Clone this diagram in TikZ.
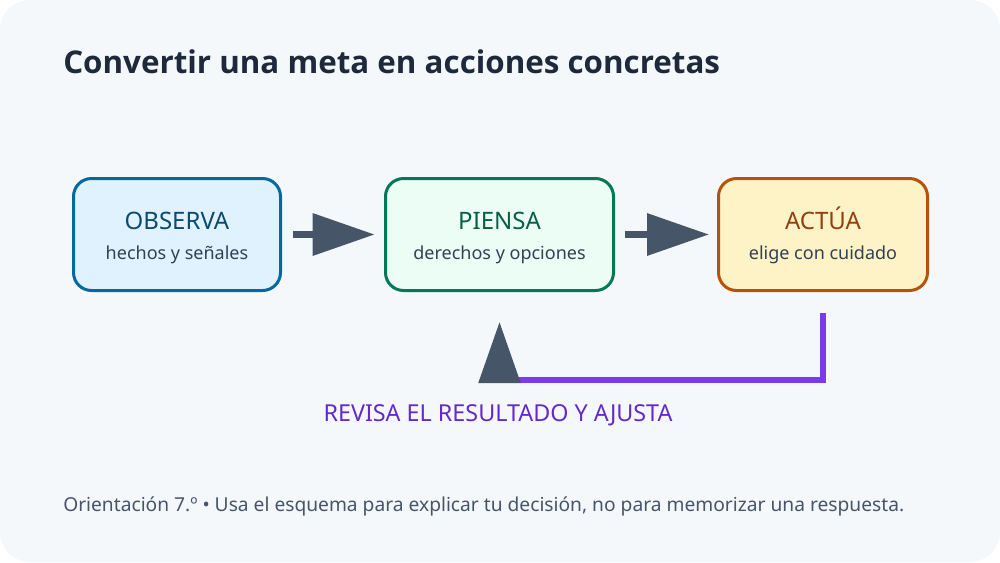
\documentclass[tikz,border=0pt]{standalone}
\usepackage{fontspec}
\setmainfont{Noto Sans}
\newfontfamily\titlefont{Open Sans}
\usetikzlibrary{arrows.meta,calc}
\definecolor{pagebg}{HTML}{F5F8FB}
\definecolor{titlec}{HTML}{1E293B}
\definecolor{subc}{HTML}{334155}
\definecolor{footc}{HTML}{475569}
\definecolor{arrowc}{HTML}{475569}
\definecolor{obsdraw}{HTML}{0369A1}
\definecolor{obsfill}{HTML}{E0F2FE}
\definecolor{obstext}{HTML}{0C4A6E}
\definecolor{piedraw}{HTML}{047857}
\definecolor{piefill}{HTML}{ECFDF5}
\definecolor{pietext}{HTML}{065F46}
\definecolor{actdraw}{HTML}{B45309}
\definecolor{actfill}{HTML}{FEF3C7}
\definecolor{acttext}{HTML}{92400E}
\definecolor{fbline}{HTML}{7C3AED}
\definecolor{fbtext}{HTML}{6229CF}
\tikzset{
  stepbox/.style={draw, line width=2.25pt, rounded corners=13.5pt, minimum height=84pt, inner sep=0pt},
  boxtitle/.style={anchor=base, inner sep=0pt, font=\fontsize{18}{21}\selectfont},
  boxsub/.style={anchor=base, inner sep=0pt, text=subc, font=\fontsize{13.5}{16}\selectfont},
  flow/.style={draw=arrowc, line width=5pt, -{Triangle[length=46.5pt, width=30.75pt, color=arrowc]}},
  feedback/.style={draw=fbline, line width=4pt, line join=miter, -{Triangle[length=45.75pt, width=30.75pt, color=arrowc]}},
}
\begin{document}
\begin{tikzpicture}[x=0.75pt,y=-0.75pt]
\useasboundingbox (0,0) rectangle (1000,562);
\fill[white] (0,0) rectangle (1000,562);
\fill[pagebg, rounded corners=22.5pt] (0,0) rectangle (1000,562);

\node[anchor=base west, inner sep=0pt, text=titlec, font=\titlefont\bfseries\fontsize{23.5}{28}\selectfont] (title) at (63,73.5) {Convertir una meta en acciones concretas};

\node[stepbox, draw=obsdraw, fill=obsfill, minimum width=155.25pt] (obs) at (177,234.5) {};
\node[stepbox, draw=piedraw, fill=piefill, minimum width=171pt] (pie) at (499.5,234.5) {};
\node[stepbox, draw=actdraw, fill=actfill, minimum width=156.75pt] (act) at (823,234.5) {};

\node[boxtitle, text=obstext] (obst) at (177,229) {OBSERVA};
\node[boxsub] (obss) at (177,259) {hechos y señales};
\node[boxtitle, text=pietext] (piet) at (499.5,229) {PIENSA};
\node[boxsub] (pies) at (499.5,259) {derechos y opciones};
\node[boxtitle, text=acttext] (actt) at (823,229) {ACTÚA};
\node[boxsub] (acts) at (823,259) {elige con cuidado};

\draw[flow, shorten <=8.25pt, shorten >=7pt] (obs.east) -- (pie.west);
\draw[flow, shorten <=7.5pt, shorten >=6pt] (pie.east) -- (act.west);

\draw[feedback, shorten <=15.75pt, shorten >=22.5pt] (act.south) -- ++(0,88) -| (pie.south);

\node[anchor=base, inner sep=0pt, text=fbtext, font=\fontsize{17.5}{21}\selectfont] (fbl) at (498,421) {REVISA EL RESULTADO Y AJUSTA};

\node[anchor=base west, inner sep=0pt, text=footc, font=\fontsize{14.4}{17}\selectfont] (foot) at (63,511) {Orientación 7.º • Usa el esquema para explicar tu decisión, no para memorizar una respuesta.};
\end{tikzpicture}
\end{document}
